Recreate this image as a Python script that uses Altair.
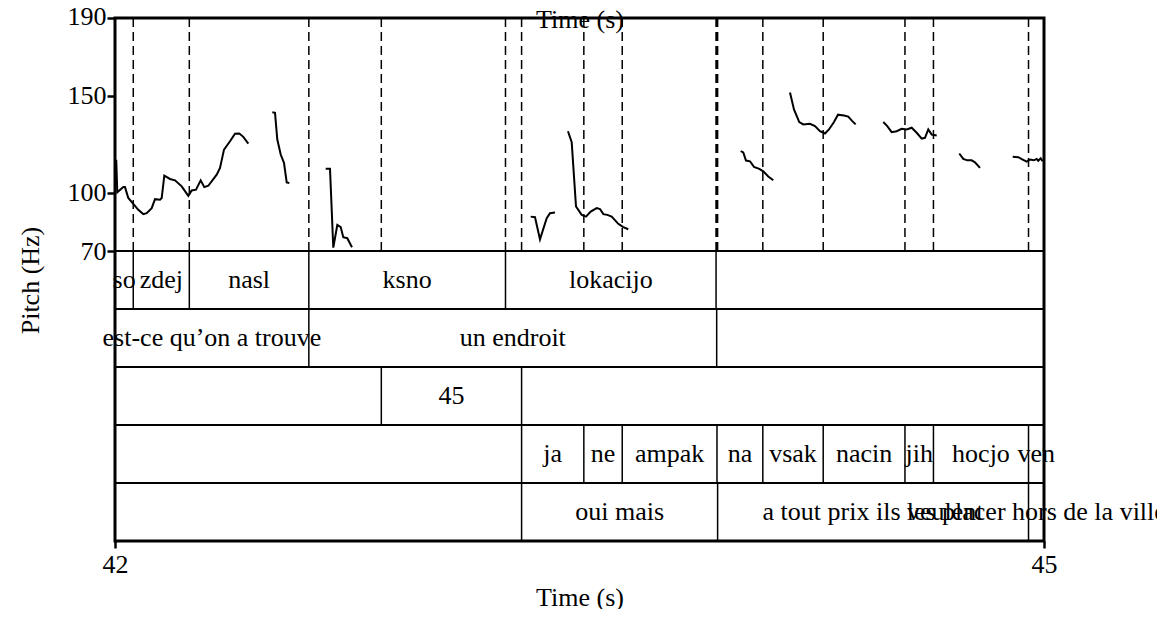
import altair as alt
import pandas as pd

FONT = "Liberation Serif"

# ---- pitch contour segments (time in s, pitch in Hz) ----
seg_times = [
    [42.0040, 42.0074, 42.0268, 42.0323, 42.0429, 42.0591, 42.0752, 42.0914, 42.1024, 42.1185,
     42.1292, 42.1453, 42.1508, 42.1592, 42.1776, 42.1938, 42.2154, 42.2367, 42.2477, 42.2616,
     42.2767, 42.2884, 42.3013, 42.3284, 42.3391, 42.3520, 42.3714, 42.3875, 42.4014, 42.4143, 42.4305],
    [42.5080, 42.5167, 42.5241, 42.5351, 42.5457, 42.5545, 42.5629],
    [42.6804, 42.6943, 42.7049, 42.7179, 42.7288, 42.7372, 42.7501, 42.7653],
    [43.3424, 43.3563, 43.3724, 43.3941, 43.4047, 43.4209],
    [43.4628, 43.4748, 43.4887, 43.5071, 43.5210, 43.5362, 43.5556, 43.5662, 43.5769, 43.5898,
     43.6040, 43.6253, 43.6414, 43.6576],
    [44.0205, 44.0289, 44.0376, 44.0505, 44.0634, 44.0806, 44.0935, 44.1096, 44.1258],
    [44.1797, 44.1926, 44.2097, 44.2227, 44.2443, 44.2604, 44.2766, 44.2927, 44.3056, 44.3218,
     44.3347, 44.3541, 44.3679, 44.3809, 44.3918],
    [44.4810, 44.4939, 44.5081, 44.5243, 44.5404, 44.5566, 44.5727, 44.5889, 44.6050, 44.6157,
     44.6263, 44.6373, 44.6535],
    [44.7264, 44.7393, 44.7522, 44.7665, 44.7771, 44.7933],
    [44.8989, 44.9170, 44.9312, 44.9441, 44.9548, 44.9677, 44.9764, 44.9815, 44.9893, 44.9958],
]
seg_hz = [
    [117.0, 100.2, 102.9, 102.9, 97.3, 94.3, 91.2, 89.0, 89.5, 92.1,
     96.7, 96.4, 97.3, 108.8, 107.1, 106.4, 103.3, 98.4, 101.2, 101.6,
     106.4, 102.9, 103.6, 109.3, 112.8, 122.2, 126.5, 130.4, 130.5, 128.8, 125.3],
    [141.5, 141.2, 127.4, 119.7, 115.4, 105.3, 105.0],
    [112.4, 112.4, 71.7, 83.4, 82.3, 77.1, 76.6, 71.9],
    [87.7, 87.4, 76.0, 86.9, 89.5, 89.8],
    [131.7, 126.0, 92.9, 88.6, 87.7, 90.3, 92.1, 91.6, 89.0, 88.6,
     87.7, 84.0, 82.3, 81.2],
    [121.4, 120.8, 116.6, 116.2, 113.3, 112.3, 111.0, 108.4, 106.4],
    [151.6, 142.9, 136.4, 135.2, 135.5, 134.3, 131.7, 130.5, 132.6, 136.4,
     140.2, 139.8, 139.2, 136.9, 135.2],
    [136.4, 134.3, 131.2, 131.7, 132.9, 132.6, 133.5, 130.9, 127.9, 128.3,
     132.6, 130.0, 129.5],
    [120.2, 117.4, 116.7, 116.7, 115.7, 112.8],
    [118.5, 118.3, 117.1, 116.0, 117.1, 116.7, 117.4, 116.5, 117.7, 116.2],
]

# ---- annotation tiers: interval boundaries (s) and labels ----
tier1_bounds = [42.0, 42.059, 42.240, 42.626, 43.261, 43.941, 45.0]
tier1_labels = ["so", "zdej", "nasl", "ksno", "lokacijo", ""]
tier2_bounds = [42.0, 42.626, 43.943, 45.0]
tier2_labels = ["est-ce qu\u2019on a trouve", "un endroit", ""]
tier3_bounds = [42.0, 42.860, 43.313, 45.0]
tier3_labels = ["", "45", ""]
tier4_bounds = [42.0, 43.313, 43.514, 43.638, 43.944, 44.092, 44.287, 44.551, 44.643, 44.950, 45.0]
tier4_labels = ["", "ja", "ne", "ampak", "na", "vsak", "nacin", "jih", "hocjo", "ven"]
tier5_bounds = [42.0, 43.313, 43.946, 44.950, 45.0]
tier5_labels = ["", "oui mais", "a tout prix ils veulent", "les placer hors de la ville"]

y_ticks = [70, 100, 150, 190]
x_ticks = [42, 45]
t_min, t_max = 42.0, 45.0
hz_min, hz_max = 70, 190

tiers = [
    (tier1_bounds, tier1_labels),
    (tier2_bounds, tier2_labels),
    (tier3_bounds, tier3_labels),
    (tier4_bounds, tier4_labels),
    (tier5_bounds, tier5_labels),
]

# ---- build tables ----
pitch_rows = []
for i, (ts, hs) in enumerate(zip(seg_times, seg_hz)):
    for t, h in zip(ts, hs):
        pitch_rows.append({"seg": i, "t": t, "hz": h})
pitch_df = pd.DataFrame(pitch_rows)

bound_rows, label_rows = [], []
for k, (b, labs) in enumerate(tiers):
    for t in b[1:-1]:
        bound_rows.append({"t": t, "lo": k, "hi": k + 1})
    for j, lab in enumerate(labs):
        if lab:
            label_rows.append({"t": (b[j] + b[j + 1]) / 2, "mid": k + 0.5, "label": lab})
bound_df = pd.DataFrame(bound_rows)
label_df = pd.DataFrame(label_rows)
dash_df = pd.DataFrame({"t": sorted(set(bound_df["t"]))})
sep_df = pd.DataFrame({"sep": [0, 1, 2, 3, 4]})

x_scale = alt.Scale(domain=[t_min, t_max], nice=False, zero=False)
top_axis = alt.Axis(orient="top", labels=False, ticks=False, domain=False, grid=False,
                    title="Time (s)", titleFontSize=26, titleFont=FONT, titleFontWeight="normal",
                    titleColor="black", titleX=464.5, titleY=9, titleBaseline="alphabetic",
                    titleAlign="center")
bottom_axis = alt.Axis(orient="bottom", values=x_ticks, grid=False, domain=False,
                       tickSize=7, tickWidth=2.5, tickColor="black",
                       labelFontSize=26, labelFont=FONT, labelColor="black", labelPadding=3,
                       labelFlush=False, labelOverlap=False, format="d",
                       title="Time (s)", titleFontSize=26, titleFont=FONT, titleFontWeight="normal",
                       titleColor="black", titleX=464.5, titleY=64, titleBaseline="alphabetic",
                       titleAlign="center")

pitch_y_scale = alt.Scale(domain=[hz_min, hz_max], range=[233, 0], nice=False, zero=False)
pitch_y_axis = alt.Axis(values=y_ticks, grid=False, domain=False, tickSize=8, tickWidth=2.5,
                        tickColor="black", labelFontSize=26, labelFont=FONT, labelColor="black",
                        labelPadding=1, labelFlush=False, labelOverlap=False,
                        labelBaseline="middle",
                        labelOffset={"condition": {"test": "datum.value == 190", "value": -2},
                                     "value": 0},
                        title="Pitch (Hz)", titleFontSize=26, titleFont=FONT, titleFontWeight="normal",
                        titleColor="black", titleAngle=270, titleX=-85, titleY=262,
                        titleBaseline="middle", titleAlign="center")

dashes = alt.Chart(dash_df).mark_rule(color="black", strokeWidth=1.5, strokeDash=[9, 5]).encode(
    x=alt.X("t:Q", scale=x_scale, axis=top_axis),
    y=alt.datum(hz_min, scale=pitch_y_scale, axis=pitch_y_axis),
    y2=alt.datum(hz_max),
)
contour = alt.Chart(pitch_df).mark_line(color="black", strokeWidth=2).encode(
    x=alt.X("t:Q", scale=x_scale, axis=top_axis),
    y=alt.Y("hz:Q", scale=pitch_y_scale, axis=pitch_y_axis),
    detail="seg:N",
)
pitch_layer = alt.layer(dashes, contour)

tier_y_scale = alt.Scale(domain=[0, 5], range=[233, 523], nice=False, zero=False)
seps = alt.Chart(sep_df).mark_rule(color="black", strokeWidth=2).encode(
    y=alt.Y("sep:Q", scale=tier_y_scale, axis=None),
)
bounds = alt.Chart(bound_df).mark_rule(color="black", strokeWidth=1.5).encode(
    x=alt.X("t:Q", scale=x_scale, axis=bottom_axis),
    y=alt.Y("lo:Q", scale=tier_y_scale, axis=None),
    y2="hi:Q",
)
labels = alt.Chart(label_df).mark_text(font=FONT, fontSize=26, color="black",
                                       baseline="middle", align="center").encode(
    x=alt.X("t:Q", scale=x_scale, axis=bottom_axis),
    y=alt.Y("mid:Q", scale=tier_y_scale, axis=None),
    text="label:N",
)
tier_layer = alt.layer(seps, bounds, labels)

chart = alt.layer(pitch_layer, tier_layer).resolve_scale(
    y="independent"
).resolve_axis(
    x="independent", y="independent"
).properties(
    width=929, height=523,
    autosize=alt.AutoSizeParams(type="none"),
    padding={"left": 107, "top": 10, "right": 113, "bottom": 68},
).configure_view(
    stroke="black", strokeWidth=3
)

chart.save("out.html", embed_options={"renderer": "svg", "actions": False})
